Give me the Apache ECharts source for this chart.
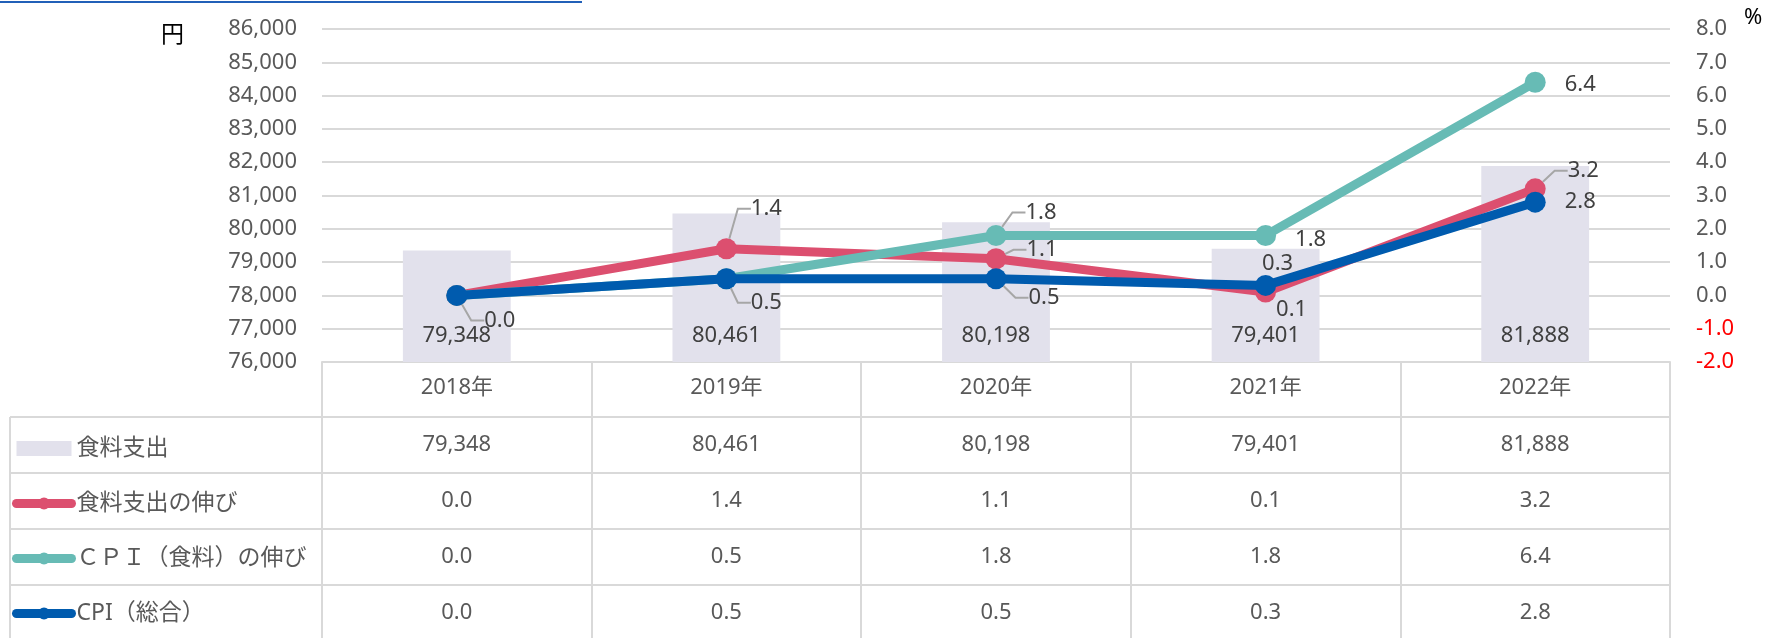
<!DOCTYPE html>
<html>
<head>
<meta charset="utf-8">
<script src="https://cdn.jsdelivr.net/npm/echarts@6/dist/echarts.min.js"></script>
<style>
html,body{margin:0;padding:0;background:#fff;}
#main{width:1769px;height:638px;}
</style>
</head>
<body>
<div id="main"></div>
<script>
// ---- data ----
const years = ['2018年', '2019年', '2020年', '2021年', '2022年'];
const seriesNames = ['食料支出', '食料支出の伸び', 'ＣＰＩ（食料）の伸び', 'CPI（総合）'];
const foodSpend = [79348, 80461, 80198, 79401, 81888];      // 円
const foodGrowth = [0.0, 1.4, 1.1, 0.1, 3.2];               // %
const cpiFood = [0.0, 0.5, 1.8, 1.8, 6.4];                  // %
const cpiTotal = [0.0, 0.5, 0.5, 0.3, 2.8];                 // %
const leftAxis = { min: 76000, max: 86000, interval: 1000, unit: '円' };
const rightAxis = { min: -2, max: 8, interval: 1, unit: '%' };

// ---- label placement (style only) : [dx, dy, leaderLine] or null = hidden ----
const labelPlace = [
  [[43, 25, true], [40, -40, true], [46, -9, true], [26, 18, false], [48, -18, true]],
  [null, null, [45, -23, true], [45, 4, false], [45, 2, false]],
  [null, [40, 24, true], [48, 19, true], [12, -22, false], [45, 0, false]]
];

const FONT = "'Noto Sans', 'Noto Sans CJK JP', sans-serif";
const FS = 22;
const TXT = '#595959';
const LBL = '#404040';
const GRIDC = '#d9d9d9';
const colors = { bar: '#e2e1ec', red: '#dc4f6f', teal: '#67bbb5', blue: '#005bae' };

const fmtInt = v => Number(v).toLocaleString('en-US');
const fmt1 = v => Number(v).toFixed(1);

function lineData(vals, place) {
  return vals.map((v, i) => {
    const p = place[i];
    return {
      value: v,
      label: { show: !!p },
      labelLine: { show: !!(p && p[2]) }
    };
  });
}

function lineSeries(name, vals, color, place, si) {
  return {
    name: name,
    type: 'line',
    xAxisIndex: 0,
    yAxisIndex: 1,
    data: lineData(vals, place),
    symbol: 'circle',
    symbolSize: 21,
    lineStyle: { color: color, width: 9 },
    itemStyle: { color: color },
    label: {
      show: true,
      position: 'inside',
      formatter: p => fmt1(p.value),
      color: LBL,
      fontSize: FS,
      fontFamily: FONT,
      padding: [0, 0, 0, 8]
    },
    labelLine: {
      show: true,
      showAbove: true,
      length2: 13,
      lineStyle: { color: '#a6a6a6', width: 2 }
    },
    labelLayout: function (params) {
      const p = place[params.dataIndex];
      if (!p) return {};
      return { dx: p[0] - 4, dy: p[1] };
    },
    emphasis: { disabled: true },
    z: 3 + si
  };
}

// table rows (under the plot) built from the data arrays
const tableRows = [
  foodSpend.map(fmtInt),
  foodGrowth.map(fmt1),
  cpiFood.map(fmt1),
  cpiTotal.map(fmt1)
];
const HEADER_H = 55, ROW_H = 56;

const xAxes = [{
  type: 'category',
  gridIndex: 0,
  data: years,
  position: 'bottom',
  axisLine: { show: true, onZero: false, lineStyle: { color: GRIDC, width: 2 } },
  axisTick: { show: true, length: HEADER_H, alignWithLabel: false, lineStyle: { color: GRIDC, width: 2 } },
  axisLabel: { margin: 15, fontSize: FS, color: TXT, fontFamily: FONT, interval: 0 },
  splitLine: { show: false }
}];
tableRows.forEach((row, r) => {
  xAxes.push({
    type: 'category',
    gridIndex: 0,
    data: row,
    position: 'bottom',
    offset: HEADER_H + r * ROW_H,
    axisLine: { show: true, onZero: false, lineStyle: { color: GRIDC, width: 2 } },
    axisTick: { show: true, length: ROW_H, alignWithLabel: false, lineStyle: { color: GRIDC, width: 2 } },
    axisLabel: { margin: 17, fontSize: FS, color: TXT, fontFamily: FONT, interval: 0 },
    splitLine: { show: false }
  });
});

const GL = 322, GR = 1670, GT = 29, GB = 362;
const tableLeft = 10;
const graphics = [
  // partial hyperlink underline at the very top of the reference
  { type: 'line', shape: { x1: 0, y1: 2, x2: 582, y2: 2 }, style: { stroke: '#2160b8', lineWidth: 2 }, silent: true },
  { type: 'text', left: 161, top: 24, style: { text: leftAxis.unit, fill: '#000', font: '23px ' + FONT } },
  { type: 'text', left: 1744, top: 7, style: { text: rightAxis.unit, fill: '#000', font: '22px ' + FONT } },
  { type: 'line', shape: { x1: tableLeft, y1: GB + HEADER_H, x2: tableLeft, y2: 660 }, style: { stroke: GRIDC, lineWidth: 2 }, silent: true }
];
for (let r = 0; r < tableRows.length; r++) {
  const y = GB + HEADER_H + r * ROW_H;
  graphics.push({ type: 'line', shape: { x1: tableLeft, y1: y, x2: GL, y2: y }, style: { stroke: GRIDC, lineWidth: 2 }, silent: true });
}

const legendLine = { width: 9, cap: 'round' };

const option = {
  animation: false,
  backgroundColor: '#fff',
  textStyle: { fontFamily: FONT },
  grid: { left: GL, right: 1769 - GR, top: GT, bottom: 638 - GB, containLabel: false, outerBoundsMode: 'none' },
  legend: {
    orient: 'vertical',
    left: 12,
    top: 437,
    padding: 0,
    itemGap: 32,
    itemWidth: 55,
    itemHeight: 15,
    selectedMode: false,
    textStyle: { fontSize: 23, color: TXT, fontFamily: FONT, lineHeight: 23 },
    data: [
      { name: seriesNames[0], icon: 'rect' },
      { name: seriesNames[1], lineStyle: legendLine },
      { name: seriesNames[2], lineStyle: legendLine },
      { name: seriesNames[3], lineStyle: legendLine }
    ]
  },
  xAxis: xAxes,
  yAxis: [
    {
      type: 'value',
      min: leftAxis.min, max: leftAxis.max, interval: leftAxis.interval,
      position: 'left',
      axisLine: { show: false }, axisTick: { show: false },
      axisLabel: { margin: 25, fontSize: FS, color: TXT, fontFamily: FONT, formatter: fmtInt },
      splitLine: { show: true, lineStyle: { color: GRIDC, width: 2 } }
    },
    {
      type: 'value',
      min: rightAxis.min, max: rightAxis.max, interval: rightAxis.interval,
      position: 'right',
      axisLine: { show: false }, axisTick: { show: false },
      axisLabel: {
        margin: 26, fontSize: FS, fontFamily: FONT, formatter: fmt1,
        color: v => (Number(v) < 0 ? '#ff0000' : TXT)
      },
      splitLine: { show: false }
    }
  ],
  series: [
    {
      name: seriesNames[0],
      type: 'bar',
      xAxisIndex: 0,
      yAxisIndex: 0,
      data: foodSpend,
      barWidth: '40%',
      itemStyle: { color: colors.bar },
      label: {
        show: true, position: 'insideBottom', distance: 15,
        formatter: p => fmtInt(p.value), color: LBL, fontSize: FS, fontFamily: FONT
      },
      emphasis: { disabled: true },
      z: 2
    },
    lineSeries(seriesNames[1], foodGrowth, colors.red, labelPlace[0], 0),
    lineSeries(seriesNames[2], cpiFood, colors.teal, labelPlace[1], 1),
    lineSeries(seriesNames[3], cpiTotal, colors.blue, labelPlace[2], 2)
  ],
  graphic: graphics
};

const chart = echarts.init(document.getElementById('main'), null, { renderer: 'canvas' });
chart.setOption(option);
</script>
</body>
</html>
